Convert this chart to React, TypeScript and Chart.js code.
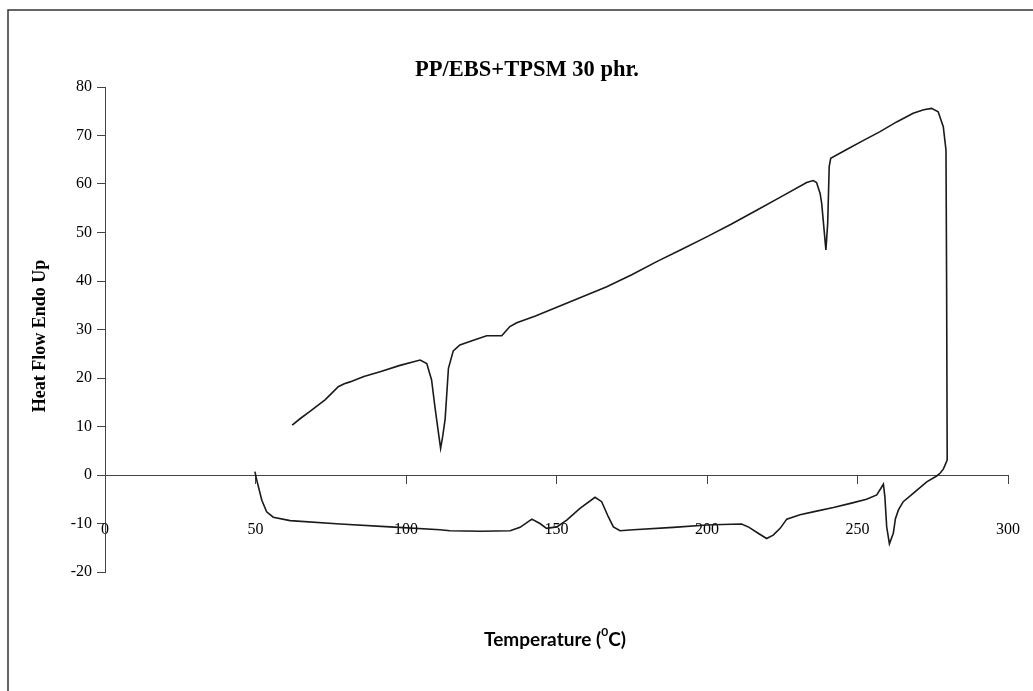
import React, { useEffect, useRef } from "react";
import { Chart, registerables } from "chart.js";

Chart.register(...registerables);

// Heating scan (upper trace), temperature in °C and heat flow (endo up)
const heatingT = [
  62.2, 65, 68.1, 73.1, 77.5, 79.5, 81.4, 86, 91.4, 98, 104.7, 106.9, 108.5, 109.6, 110.6, 111.5,
  112.2, 113, 114.1, 115.7, 117.9, 122.4, 126.8, 131.8, 133.5, 134.5, 136.8, 143, 150.1, 158,
  166.7, 175, 183.3, 191.5, 199.9, 208, 216.5, 225, 233.1, 235.3, 236.4, 237.6, 238.1, 238.6,
  239.5, 240.1, 240.6, 241.1, 246.4, 252, 257.5, 263, 268.5, 272, 274.6, 276.8, 278.5, 279.4,
  279.6, 279.8,
];
const heatingHF = [
  10.3, 11.7, 13.1, 15.5, 18.2, 18.8, 19.2, 20.3, 21.3, 22.6, 23.7, 23, 19.6, 14.1, 9.5, 5.5,
  8, 11.5, 22, 25.6, 26.8, 27.8, 28.7, 28.7, 29.9, 30.6, 31.4, 32.8, 34.6, 36.6,
  38.8, 41.3, 44, 46.5, 49.1, 51.7, 54.6, 57.5, 60.3, 60.7, 60.3, 58, 56, 52.6,
  46.4, 51.9, 63.6, 65.3, 67.1, 69, 70.8, 72.8, 74.6, 75.3, 75.6, 74.9, 71.8, 67,
  40.2, 3.1,
];

// Cooling scan (lower trace)
const coolingT = [
  279.8, 279.2, 278.5, 277.5, 276.3, 273, 268.5, 265.2, 263.6, 262.6, 261.9, 260.6, 259.7, 259.1,
  258.6, 256.4, 253, 248, 242, 236, 230.9, 226.5, 224.3, 222, 219.8, 217, 214, 211.5, 205, 199.9,
  188.8, 175.5, 171.1, 168.9, 167.2, 165, 162.8, 157.8, 153.4, 150.1, 146.7, 144.5, 141.8, 137.9,
  134.6, 125, 114.6, 111.3, 94.7, 78.1, 61.5, 55.9, 53.7, 52.1, 50.4, 49.8,
];
const coolingHF = [
  3.1, 2.2, 1.2, 0.4, -0.2, -1.4, -3.8, -5.5, -7.2, -9, -12, -14.2, -10.7, -4.5,
  -1.9, -4.1, -5, -5.8, -6.7, -7.5, -8.2, -9.1, -11, -12.4, -13.1, -12, -10.8, -10.1, -10.2, -10.3,
  -10.8, -11.3, -11.5, -10.7, -8.6, -5.5, -4.6, -6.9, -9.3, -10.7, -11, -10, -9.1, -10.8,
  -11.5, -11.6, -11.5, -11.3, -10.7, -10.1, -9.4, -8.7, -7.6, -5.2, -1, 0.7,
];

const chartTitle = "PP/EBS+TPSM 30 phr.";
const yAxisTitle = "Heat Flow Endo Up";
const xTitleParts = ["Temperature (", "0", "C)"];
const xMin = 0;
const xMax = 300;
const xStep = 50;
const yMin = -20;
const yMax = 80;
const yStep = 10;

const W = 1033;
const H = 691;

const decorPlugin = {
  id: "decor",
  beforeDraw(chart: any) {
    const ctx = chart.ctx;
    ctx.save();
    ctx.fillStyle = "#ffffff";
    ctx.fillRect(0, 0, chart.width, chart.height);
    ctx.strokeStyle = "#333333";
    ctx.lineWidth = 1.5;
    ctx.beginPath();
    ctx.moveTo(8, H);
    ctx.lineTo(8, 10);
    ctx.lineTo(W, 10);
    ctx.stroke();
    ctx.restore();
  },
  afterDraw(chart: any) {
    const ctx = chart.ctx;
    ctx.save();
    ctx.fillStyle = "#000000";
    ctx.textAlign = "center";
    ctx.textBaseline = "middle";
    ctx.font = 'bold 22.5px "Liberation Serif"';
    ctx.fillText(chartTitle, 527, 70);

    // y axis title (rotated)
    ctx.save();
    ctx.translate(40, 336);
    ctx.rotate(-Math.PI / 2);
    ctx.font = 'bold 18px "Liberation Serif"';
    ctx.fillText(yAxisTitle, 0, 0);
    ctx.restore();

    // x axis title with superscript degree
    const mainFont = 'bold 19px "Lato"';
    const supFont = 'bold 12px "Lato"';
    ctx.font = mainFont;
    const w1 = ctx.measureText(xTitleParts[0]).width;
    const w3 = ctx.measureText(xTitleParts[2]).width;
    ctx.font = supFont;
    const w2 = ctx.measureText(xTitleParts[1]).width;
    const total = w1 + w2 + w3;
    let x = 555 - total / 2;
    const y = 640;
    ctx.textAlign = "left";
    ctx.font = mainFont;
    ctx.fillText(xTitleParts[0], x, y);
    x += w1;
    ctx.font = supFont;
    ctx.fillText(xTitleParts[1], x, y - 8);
    x += w2;
    ctx.font = mainFont;
    ctx.fillText(xTitleParts[2], x, y);
    ctx.restore();
  },
};

export default function App() {
  const canvasRef = useRef<HTMLCanvasElement | null>(null);

  useEffect(() => {
    const canvas = canvasRef.current;
    if (!canvas) return;
    const heating = heatingT.map((t, i) => ({ x: t, y: heatingHF[i] }));
    const cooling = coolingT.map((t, i) => ({ x: t, y: coolingHF[i] }));
    const lineStyle = {
      borderColor: "#1a1a1a",
      borderWidth: 1.6,
      pointRadius: 0,
      pointHoverRadius: 0,
      fill: false,
      tension: 0,
    };
    const chart = new Chart(canvas, {
      type: "line",
      data: {
        datasets: [
          { label: "Heating", data: heating, ...lineStyle },
          { label: "Cooling", data: cooling, ...lineStyle },
        ],
      },
      plugins: [decorPlugin],
      options: {
        responsive: false,
        animation: false,
        events: [],
        layout: { padding: { left: 0, right: 25, top: 87, bottom: 119 } },
        plugins: {
          legend: { display: false },
          title: { display: false },
          tooltip: { enabled: false },
        },
        scales: {
          x: {
            type: "linear",
            position: { y: 0 },
            min: xMin,
            max: xMax,
            ticks: {
              stepSize: xStep,
              padding: 7,
              color: "#000000",
              font: { family: '"Liberation Serif"', size: 16, lineHeight: 5 },
              maxRotation: 0,
            },
            grid: {
              drawOnChartArea: false,
              drawTicks: true,
              tickLength: 8,
              color: "#444444",
            },
            border: { display: true, color: "#444444", width: 1 },
          },
          y: {
            type: "linear",
            position: "left",
            min: yMin,
            max: yMax,
            afterFit(scale: any) {
              scale.width = 105;
            },
            ticks: {
              stepSize: yStep,
              padding: 5,
              color: "#000000",
              font: { family: '"Liberation Serif"', size: 16 },
            },
            grid: {
              drawOnChartArea: false,
              drawTicks: true,
              tickLength: 8,
              color: "#444444",
            },
            border: { display: true, color: "#444444", width: 1 },
          },
        },
      },
    });
    return () => chart.destroy();
  }, []);

  return (
    <div style={{ position: "fixed", left: 0, top: 0, width: W, height: H, background: "#fff" }}>
      <canvas ref={canvasRef} width={W} height={H} style={{ display: "block" }} />
    </div>
  );
}
